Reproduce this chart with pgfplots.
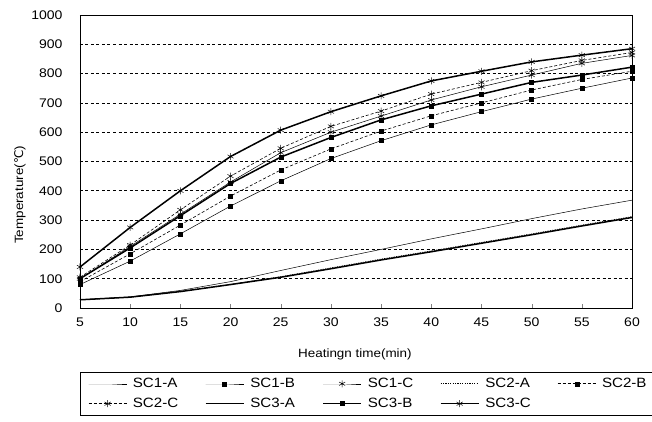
\documentclass[border=0pt]{standalone}
\usepackage{pgfplots}
\pgfplotsset{compat=1.18}
\usepackage{fontspec}
\setmainfont{Liberation Sans}[FakeStretch=1.12]
\newfontfamily\dejavu{DejaVu Sans}
\newcommand{\legtxt}[1]{\makebox[58pt][l]{\hspace{4pt}#1}}
\begin{document}
\begin{tikzpicture}
\path[use as bounding box] (-80pt,-114pt) rectangle (572pt,308pt);
\begin{axis}[
  at={(0,0)}, anchor=south west,
  scale only axis, width=552pt, height=293pt,
  xmin=5, xmax=60, ymin=0, ymax=1000,
  xtick={5,10,...,60}, ytick={0,100,...,1000},
  /pgf/number format/assume math mode=true,
  /pgf/number format/1000 sep={},
  tick label style={font=\fontsize{12.5}{14}\selectfont},
  xticklabel style={yshift=-6pt},
  yticklabel style={xshift=-14pt},
  tick align=inside, xtick pos=lower, ytick style={draw=none},
  major tick length=4pt,
  ymajorgrids, grid style={black, dash pattern=on 3pt off 2.5pt, line width=0.6pt},
  axis line style={black, line width=0.7pt},
  xlabel={Heatingn time(min)},
  ylabel={Temperature({\dejavu ℃})},
  label style={font=\fontsize{12}{13}\selectfont},
  xlabel style={at={(axis description cs:0.498,-0.16)}, anchor=center},
  ylabel style={at={(axis description cs:-0.109,0.386)}, anchor=center},
  legend columns=5,
  legend style={at={(axis description cs:0,-0.2184)}, anchor=north west,
    draw=black, line width=0.6pt, font=\fontsize{13.5}{15}\selectfont,
    row sep=5pt, inner xsep=8pt, inner ysep=4pt,
    /tikz/every even column/.append style={column sep=16pt}},
  legend image code/.code={\draw[mark repeat=2,mark phase=2,#1] plot coordinates {(0pt,0pt)(19pt,0pt)(38pt,0pt)};},
  every axis plot/.append style={black},
  sqr/.style={mark=square*, mark size=2pt, mark options={solid, fill=black, line width=0.4pt}},
  str/.style={mark=asterisk, mark size=3.5pt, mark options={solid, line width=0.5pt}},
]
% SC1-A
\addplot[line width=0.5pt] coordinates {(5,28)(10,38)(15,60)(20,90)(25,128)(30,165)(35,200)(40,236)(45,270)(50,305)(55,338)(60,368)};
% SC1-B
\addplot[line width=0.5pt, sqr] coordinates {(5,80)(10,160)(15,253)(20,348)(25,434)(30,510)(35,571)(40,625)(45,670)(50,713)(55,750)(60,785)};
% SC1-C
\addplot[line width=0.5pt, str] coordinates {(5,100)(10,210)(15,320)(20,430)(25,530)(30,600)(35,655)(40,710)(45,755)(50,795)(55,835)(60,862)};
% SC2-A
\addplot[line width=0.6pt, dash pattern=on 1.2pt off 1.2pt] coordinates {(5,28)(10,37)(15,57)(20,81)(25,107)(30,137)(35,167)(40,195)(45,224)(50,253)(55,283)(60,312)};
% SC2-B
\addplot[line width=0.6pt, dash pattern=on 3pt off 2pt, sqr] coordinates {(5,90)(10,185)(15,283)(20,382)(25,471)(30,543)(35,604)(40,656)(45,700)(50,744)(55,780)(60,808)};
% SC2-C
\addplot[line width=0.6pt, dash pattern=on 3pt off 2pt, str] coordinates {(5,105)(10,215)(15,335)(20,450)(25,545)(30,620)(35,672)(40,730)(45,770)(50,810)(55,845)(60,872)};
% SC3-A
\addplot[line width=1.5pt] coordinates {(5,28)(10,37)(15,56)(20,80)(25,105)(30,134)(35,164)(40,192)(45,221)(50,250)(55,280)(60,309)};
% SC3-B
\addplot[line width=1.5pt, sqr] coordinates {(5,100)(10,205)(15,315)(20,425)(25,515)(30,582)(35,642)(40,690)(45,730)(50,770)(55,795)(60,822)};
% SC3-C
\addplot[line width=1.5pt, str] coordinates {(5,140)(10,275)(15,400)(20,517)(25,607)(30,670)(35,724)(40,775)(45,808)(50,840)(55,863)(60,885)};
\legend{\legtxt{SC1-A},\legtxt{SC1-B},\legtxt{SC1-C},\legtxt{SC2-A},\legtxt{SC2-B},\legtxt{SC2-C},\legtxt{SC3-A},\legtxt{SC3-B},\legtxt{SC3-C}}
\end{axis}
\end{tikzpicture}
\end{document}
